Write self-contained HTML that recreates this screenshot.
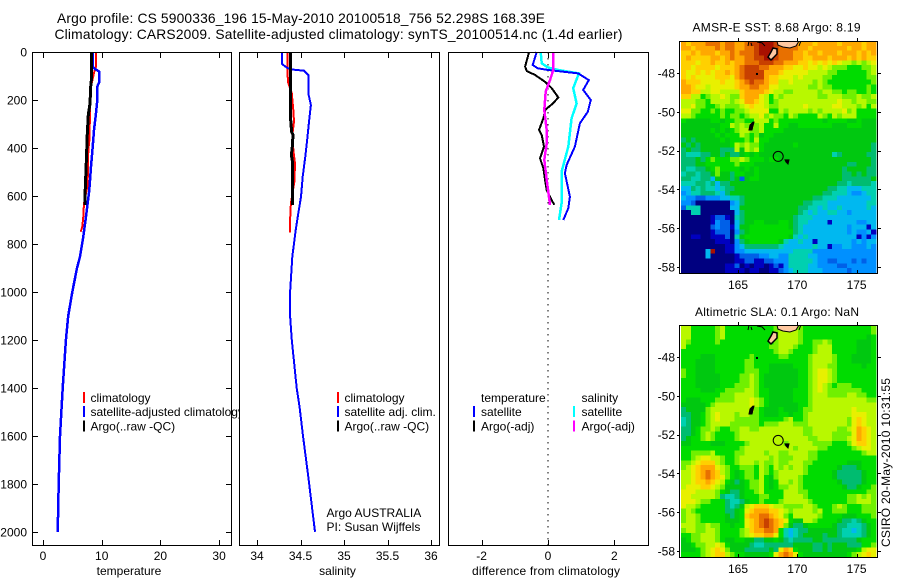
<!DOCTYPE html>
<html>
<head>
<meta charset="utf-8">
<title>Argo profile</title>
<style>
html,body{margin:0;padding:0;background:#fff;}
svg{display:block;}
text{font-family:"Liberation Sans",sans-serif;font-size:12px;fill:#000;}
</style>
</head>
<body>
<svg id="chart" xmlns="http://www.w3.org/2000/svg" width="900" height="580" viewBox="0 0 900 580">
<defs>
<clipPath id="clip-map-1"><rect x="680" y="41" width="197" height="232"/></clipPath>
<clipPath id="clip-map-2"><rect x="680" y="325" width="197" height="232"/></clipPath>
</defs>
<rect width="900" height="580" fill="#fff"/>
<g id="panels"></g>
<text x="57" y="23" style="font-size:13.8px" textLength="488" lengthAdjust="spacing">Argo profile: CS 5900336_196 15-May-2010 20100518_756 52.298S 168.39E</text>
<text x="54.5" y="39" style="font-size:13.8px" textLength="568" lengthAdjust="spacing">Climatology: CARS2009. Satellite-adjusted climatology: synTS_20100514.nc (1.4d earlier)</text>
<text x="129" y="575" text-anchor="middle">temperature</text>
<text x="337.5" y="575" text-anchor="middle">salinity</text>
<text x="472" y="575" textLength="148" lengthAdjust="spacing">difference from climatology</text>
<text x="692.5" y="31.5" textLength="168" lengthAdjust="spacing">AMSR-E SST: 8.68 Argo: 8.19</text>
<text x="695" y="316" textLength="164" lengthAdjust="spacing">Altimetric SLA: 0.1 Argo: NaN</text>
<text transform="translate(890,547) rotate(-90)" textLength="169" lengthAdjust="spacing">CSIRO 20-May-2010 10:31:55</text>
</svg>
<script>
// ---------- axis ticks ----------
const depthTicks = [0, 200, 400, 600, 800, 1000, 1200, 1400, 1600, 1800, 2000];
const temperatureTicks = [0, 10, 20, 30];
const salinityTicks = [34, 34.5, 35, 35.5, 36];
const differenceTicks = [-2, 0, 2];
const lonTicks = [165, 170, 175];
const latTicks = [-48, -50, -52, -54, -56, -58];

// ---------- temperature panel ----------
const tempClimDepth = [0, 61, 82, 130, 172, 255, 367, 408, 505, 561, 630, 686, 728, 749];
const tempClimValue = [9.03, 9.03, 8.74, 8.29, 8.0, 8.0, 7.9, 7.72, 7.67, 7.55, 6.98, 6.87, 6.7, 6.42];
const tempSatDepth = [0, 61, 71, 82, 124, 144, 200, 255, 325, 394, 478, 575, 686, 769, 853, 900, 1000, 1100, 1200, 1400, 1600, 1800, 2000];
const tempSatValue = [8.46, 8.46, 8.86, 9.6, 9.6, 9.25, 9.25, 9.03, 8.69, 8.46, 8.18, 7.89, 7.33, 6.87, 6.3, 5.8, 5.0, 4.3, 3.9, 3.35, 2.9, 2.67, 2.5];
const tempArgoDepth = [0, 103, 144, 215, 262, 339, 492, 561, 637];
const tempArgoValue = [8.29, 8.29, 8.12, 8.0, 7.72, 7.55, 7.33, 7.2, 7.15];

// ---------- salinity panel ----------
const salClimDepth = [0, 89, 130, 172, 242, 290, 332, 408, 464, 540, 630, 700, 753];
const salClimValue = [34.349, 34.349, 34.36, 34.40, 34.417, 34.425, 34.41, 34.417, 34.437, 34.43, 34.39, 34.38, 34.38];
const salSatDepth = [0, 50, 64, 72, 78, 96, 172, 221, 283, 353, 436, 519, 603, 672, 742, 853, 1000, 1100, 1200, 1400, 1480, 1603, 1770, 1999];
const salSatValue = [34.287, 34.287, 34.34, 34.38, 34.54, 34.59, 34.59, 34.62, 34.6, 34.58, 34.555, 34.525, 34.506, 34.475, 34.445, 34.406, 34.38, 34.38, 34.4, 34.456, 34.49, 34.53, 34.59, 34.667];
const salArgoDepth = [0, 283, 332, 346, 394, 429, 464, 637];
const salArgoValue = [34.387, 34.387, 34.398, 34.414, 34.406, 34.395, 34.41, 34.406];

// ---------- difference panel ----------
const diffTempArgoDepth = [0, 61, 79, 96, 124, 151, 189, 213, 242, 276, 325, 346, 394, 443, 485, 533, 575, 617, 637];
const diffTempArgoValue = [-0.57, -0.69, -0.64, -0.39, -0.09, 0.11, 0.31, 0.16, -0.09, -0.14, -0.27, -0.19, -0.12, -0.24, -0.14, -0.09, -0.04, 0.11, 0.19];
const diffTempSatDepth = [0, 54, 68, 75, 89, 117, 158, 200, 249, 297, 394, 471, 505, 603, 651, 700];
const diffTempSatValue = [-0.34, -0.46, -0.31, 0.01, 0.91, 1.23, 1.06, 1.29, 1.2, 0.96, 0.81, 0.56, 0.51, 0.66, 0.61, 0.46];
const diffSalSatDepth = [0, 47, 65, 75, 89, 151, 214, 276, 394, 499, 630, 700];
const diffSalSatValue = [-0.22, -0.19, 0.01, 0.31, 0.93, 0.76, 0.86, 0.71, 0.61, 0.41, 0.41, 0.33];
const diffSalArgoDepth = [0, 75, 117, 165, 242, 325, 381, 450, 533, 637];
const diffSalArgoValue = [0.16, 0.16, 0.06, -0.07, -0.11, -0.04, -0.04, -0.11, -0.04, 0.06];

// ---------- map geography (lon/lat) ----------
const profileLon = 168.39;
const profileLat = -52.298;
const mainLandLon = [168.29, 168.37, 168.79, 169.38, 169.89, 170.14];
const mainLandLat = [-46.35, -46.56, -46.66, -46.71, -46.61, -46.35];
const stewartLon = [167.78, 167.53, 167.78, 167.95, 168.29, 168.29, 167.95];
const stewartLat = [-47.33, -47.18, -46.92, -46.71, -46.76, -47.02, -47.23];
const aucklandLon = [165.93, 166.01, 166.26, 166.35, 166.18];
const aucklandLat = [-50.94, -50.68, -50.53, -50.53, -50.94];
const campbellLon = [168.96, 169.3, 169.22, 169.05];
const campbellLat = [-52.48, -52.48, -52.69, -52.59];
const coastLeftLon = [165.93, 165.84];
const coastLeftLat = [-46.35, -46.61];
const coastMidLon = [166.18, 166.1];
const coastMidLat = [-46.61, -46.45];
const coastArcLon = [166.6, 167.02, 167.28];
const coastArcLat = [-46.4, -46.45, -46.61];
const coastRightLon = [170.14, 170.3];
const coastRightLat = [-46.61, -46.35];
const snaresLon = [166.6];
const snaresLat = [-48.05];

// ---------- SST map levels (base-36 code, one row per latitude band) ----------
const sstRows = [
"dcddd eeedeedde ff ggg feeee dddcddddcddddcdd",
"ddcdd ddedeedde ef ggg feeee ddcdddddddcddcdd",
"ccdcd ddcddedee ef ggg feeed dcddcdddcdddcdcd",
"cdccc cddcdedde ef fgg feeed dccdddcdddcdcdcc",
"cccbc cdccd cddee efffe edddc cbcbc bcbaa 9a9ab",
"ccbcc ccbcc cdeff feedd dccbb cbbab a9998 8899a",
"cbbcb cbccd cdeff ffddd cbbbb baaaa 99888 8889a",
"cbcbb bbccc bdeff ffdcc bbbab aaaa9 98888 88899",
"dcccb bbbcb bcdef eedcc aabaa aa9a9 88888 88889",
"ddcbb abbbb bcdde eddbb aaaaa a99a9 98888 88898",
"ddcca abbaa aacdd ddcba a99aa aaa9a a9989 98898",
"ccaa8 9aaba 99cdd dba8a 9aaaa aaa99 aaa99 9a99a",
"aaa99 8aaaa 9abdd cba89 aaaaa aaaaa aabaa 9aa99",
"aab99 889a9 99abc bba99 aaaaa baaaa abbaa a9a8a",
"bb998 89898 899ab bbb88 a9aaa a9a9a aaab9 a8888",
"aa988 88898 9989a ab9a9 98a98 888a9 8a9aa a8888",
"87777 78878 89988 aaa89 88888 88887 88887 78777",
"77777 77788 a9a9a 9a88a 88778 88888 87778 88777",
"77777 78787 89aa9 9a888 87777 77777 77777 77777",
"77777 77878 88a98 97887 77777 77777 77777 77777",
"67677 77787 88898 a8877 77777 77777 77777 77777",
"76767 77777 8a9a9 98777 77787 77777 77777 77776",
"67667 77766 6a7a9 a8777 77777 77777 77777 77776",
"65556 67767 66787 87777 77777 77777 75677 77766",
"66676 89888 99a98 88788 77777 77777 77777 77776",
"66677 88888 89888 77777 77777 77777 77776 67776",
"65566 78988 88787 87777 77777 77777 77767 77766",
"56656 67977 68877 87777 77777 77777 77766 76766",
"66556 64777 67278 87777 77777 77777 77766 66667",
"55566 56466 77777 77777 77777 77777 77665 66665",
"44656 55456 67777 77777 77777 77777 66554 44555",
"34556 66546 77777 77777 77777 77776 65554 33455",
"43322 33344 55677 77777 77777 77665 55444 44445",
"33200 00000 34677 77777 77777 66555 44444 44455",
"25550 00000 44777 77777 77776 65545 44544 44454",
"00550 00000 04677 77777 77776 54544 55443 44444",
"00000 01221 05677 77777 77765 55444 44444 44444",
"00000 01322 04677 88777 88765 54444 14444 43344",
"00000 02322 14778 88888 88765 44444 44443 44414",
"00000 01222 03678 88888 88865 44444 44443 43341",
"00110 01112 05788 88888 88754 54444 44444 41313",
"00000 00111 03678 88888 75445 44144 44444 34344",
"00000 00001 13466 66666 54444 44544 13344 33343",
"00000 4g001 13344 44444 44455 55333 33333 33333",
"00000 40000 01222 23344 33555 54433 33333 33333",
"00000 00000 01122 11223 33555 55433 22333 23233",
"00000 00001 12010 11012 13555 54433 33223 33333",
"00000 00001 11101 10011 23455 54443 33332 33333"
];

// ---------- SLA map levels ----------
const slaRows = [
"aa888 889a8 88888 88889 99a99 88888 88888 88889",
"aa888 889a8 88888 88889 aaaa9 88888 88888 88889",
"aa888 889a8 88888 88889 aaaa9 88888 88888 88878",
"a9888 88988 88888 88889 aaaa9 8899a 98888 87778",
"a8888 88888 88888 88899 aaa98 889aa a8888 87778",
"88888 88888 88888 88889 aa988 889aa a8888 87778",
"88887 77888 88889 88888 99888 89aaa a9888 77778",
"88877 77888 88899 88888 88888 89aaa a9888 77778",
"88877 77888 88899 88877 77788 89aaa 99888 88788",
"98877 77888 88899 98877 77778 89abb a9888 88888",
"98877 77788 8899a 98777 77778 89abb a9888 88888",
"88877 77788 8899a 98777 77778 89abb a9888 88888",
"88877 77788 8999a 98777 77778 89aba 98999 88888",
"88887 77889 999aa 98877 77788 89aba 99999 99888",
"88888 88899 9aaaa 98877 77788 89aaa 9999a a9988",
"87778 88999 9aaab a9877 77788 89aaa aaaaa aaa99",
"77777 89aaa aaaab a9877 77778 89aaa aaaaa aaaaa",
"67777 9aaaa aaaaa 98777 87778 99aaa aaaaa baaaa",
"66778 9abaa a9aa9 98777 88788 9aaaa aaaaa bbbaa",
"56778 9abaa a9999 98888 89a88 9aaaa aaaa9 bcbaa",
"56778 9aaaa 99999 98999 aaa99 9aaaa aaaa9 bcbaa",
"66789 9a988 99aa9 9aaaa aaaaa 99aaa aa99a bdcba",
"66789 a9888 89aaa aaaaa aaaaa 99aaa a9999 bdcba",
"67889 a9888 89aaa aaaaa aaaaa a99aa a999a bdcba",
"77888 87778 8889a aaaaa a9aaa aa999 98889 bccba",
"88888 88888 889aa aaaaa aaa9a aaa99 88888 9abba",
"88999 9a888 899aa aa9aa 99aaa a9988 88888 889aa",
"889ab baa98 89aaa aaa9a 999aa a9988 88888 88888",
"99abc cca98 89aaa 9a99a 99aaa 99888 88887 77888",
"9abcd ddba9 88999 8a98a 9a9aa 98888 88766 67888",
"aabcd edca9 87899 8a989 aaaaa 98888 87666 66788",
"aabcd edcb9 87899 8a879 aaaa9 88888 87666 66788",
"aabcc dcba8 76789 9a878 aa9a9 88888 88766 66788",
"abbbc cba97 77789 9a878 99aa9 88888 88876 67889",
"bbbaa aa987 66788 9a888 8aaa9 98888 88888 88899",
"bbaaa aa965 56788 89988 8aaaa 98888 88889 9a9a9",
"bbba9 98886 55678 89888 9aaaa a9888 88889 9aaa9",
"baa98 88886 567ab cccba a9999 aa988 89a98 88999",
"9a988 88886 678bc dddcc ba9aa aa9a8 89998 88999",
"9aa98 88887 678cd deedc b98aa aaa98 88877 78889",
"9aa98 88887 778bc defed cb877 aa988 88766 56788",
"aaa99 a9988 788bc defed c9766 78888 87665 55678",
"9aa99 aa988 889ac ddeed 85456 67777 77655 45678",
"8899a aa988 889ab ccddb 85456 77776 77655 55678",
"7899a aa987 78877 66778 76566 66776 66666 67888",
"77899 aaba8 77776 55666 66677 77667 67776 66889",
"77789 abcb9 77766 66676 bdc87 77667 67777 78abb",
"88889 abcca 98877 7778b dedb8 77777 77778 9abcb"
];

const levelColors = ["#000080","#0000c0","#0060e8","#0090ff","#00b8f0","#00d0b0","#00bc70","#00c810","#00dc00","#70f000","#b8f800","#e8f000","#ffd000","#ffa800","#e87000","#c84000","#a81000"];

// ---------- axis functions ----------
const yDepth = d => 52 + 0.24 * d;
const xTemp = v => 43 + 5.87 * v;
const xSal = v => 257 + 87 * (v - 34);
const xDiff = v => 548 + 33.2 * v;
const lonX = lon => 738 + 11.86 * (lon - 165);
const latY = (lat, top) => top + 32 + 19.4 * (-48 - lat);

const NS = "http://www.w3.org/2000/svg";
const root = document.getElementById("panels");
function mk(tag, attrs, parent) {
  const el = document.createElementNS(NS, tag);
  for (const k in attrs) el.setAttribute(k, attrs[k]);
  (parent || root).appendChild(el);
  return el;
}
function pathFrom(xs, ys) {
  return xs.map((x, i) => (i ? "L" : "M") + x.toFixed(1) + " " + ys[i].toFixed(1)).join("");
}

function drawSeries(parent, depth, value, xFn, color, width, name) {
  const line = mk("path", {
    d: pathFrom(value.map(xFn), depth.map(yDepth)),
    fill: "none", stroke: color, "stroke-width": width, "shape-rendering": "crispEdges"
  }, parent);
  
  
}

function drawPanel(name, left, right) {
  const g = mk("g", {});
  
  
  const bg = mk("rect", {x: left, y: 52, width: right - left, height: 493, fill: "#fff"}, g);
  
  
  return g;
}

function drawFrame(name, left, right, xFn, ticks, withDepth) {
  const g = mk("g", {"shape-rendering": "crispEdges"});
  
  
  const box = mk("rect", {x: left + 0.5, y: 52.5, width: right - left, height: 493, fill: "none", stroke: "#000"}, g);
  
  
  ticks.forEach(t => {
    const x = Math.round(xFn(t)) + 0.5;
    const tk = mk("path", {d: `M${x} 53V58M${x} 545V540`, stroke: "#000", fill: "none"}, g);
    
    
    const lb = mk("text", {x: xFn(t), y: 560, "text-anchor": "middle"}, g);
    
    
    lb.textContent = String(t);
  });
  if (withDepth) {
    depthTicks.forEach(d => {
      const y = Math.round(yDepth(d)) + 0.5;
      const tk = mk("path", {d: `M${left + 1} ${y}H${left + 6}M${right} ${y}H${right - 5}`, stroke: "#000", fill: "none"}, g);
      
      
      const lb = mk("text", {x: 27, y: yDepth(d) + 4.5, "text-anchor": "end"}, g);
      
      
      lb.textContent = String(d);
    });
  }
}

function legendEntry(parent, name, color, markX, textX, baseline, label) {
  if (color) {
    const m = mk("rect", {x: markX, y: baseline - 10, width: 2, height: 11, fill: color, "shape-rendering": "crispEdges"}, parent);
    
    
  }
  const t = mk("text", {x: textX, y: baseline}, parent);
  
  
  t.textContent = label;
}

// ---------- panel 1: temperature ----------
const p1 = drawPanel("temperature-panel", 32, 231);
drawSeries(p1, tempClimDepth, tempClimValue, xTemp, "#ff0000", 2, "temperature-climatology-line");
drawSeries(p1, tempSatDepth, tempSatValue, xTemp, "#0000ff", 2.5, "temperature-satellite-line");
drawSeries(p1, tempArgoDepth, tempArgoValue, xTemp, "#000000", 3, "temperature-argo-line");
drawFrame("temperature-panel", 32, 231, xTemp, temperatureTicks, true);
legendEntry(p1, "temperature-legend-climatology", "#ff0000", 83, 90.5, 402, "climatology");
legendEntry(p1, "temperature-legend-satellite", "#0000ff", 83, 90.5, 416, "satellite-adjusted climatology");
legendEntry(p1, "temperature-legend-argo", "#000000", 83, 90.5, 430.5, "Argo(..raw -QC)");

// ---------- panel 2: salinity ----------
const p2 = drawPanel("salinity-panel", 239, 439);
drawSeries(p2, salClimDepth, salClimValue, xSal, "#ff0000", 2, "salinity-climatology-line");
drawSeries(p2, salSatDepth, salSatValue, xSal, "#0000ff", 2, "salinity-satellite-line");
drawSeries(p2, salArgoDepth, salArgoValue, xSal, "#000000", 3, "salinity-argo-line");
drawFrame("salinity-panel", 239, 439, xSal, salinityTicks, false);
legendEntry(p2, "salinity-legend-climatology", "#ff0000", 337, 344.5, 402, "climatology");
legendEntry(p2, "salinity-legend-satellite", "#0000ff", 337, 344.5, 416, "satellite adj. clim.");
legendEntry(p2, "salinity-legend-argo", "#000000", 337, 344.5, 430.5, "Argo(..raw -QC)");
legendEntry(p2, "data-centre-note", null, 0, 326.5, 517, "Argo AUSTRALIA");
legendEntry(p2, "principal-investigator-note", null, 0, 326.5, 531, "PI: Susan Wijffels");

// ---------- panel 3: difference ----------
const p3 = drawPanel("difference-panel", 448, 648);
const zeroLine = mk("path", {d: `M${xDiff(0)} 52V545`, stroke: "#000", "stroke-dasharray": "1.5 4.5", fill: "none", "shape-rendering": "crispEdges"}, p3);


drawSeries(p3, diffSalSatDepth, diffSalSatValue, xDiff, "#00ffff", 2.5, "difference-salinity-satellite-line");
drawSeries(p3, diffTempSatDepth, diffTempSatValue, xDiff, "#0000ff", 2, "difference-temperature-satellite-line");
drawSeries(p3, diffTempArgoDepth, diffTempArgoValue, xDiff, "#000000", 2, "difference-temperature-argo-line");
drawSeries(p3, diffSalArgoDepth, diffSalArgoValue, xDiff, "#ff00ff", 2.5, "difference-salinity-argo-line");
drawFrame("difference-panel", 448, 648, xDiff, differenceTicks, false);
legendEntry(p3, "difference-legend-temperature-heading", null, 0, 481, 402, "temperature");
legendEntry(p3, "difference-legend-temperature-satellite", "#0000ff", 473, 481, 416, "satellite");
legendEntry(p3, "difference-legend-temperature-argo", "#000000", 473, 481, 430.5, "Argo(-adj)");
legendEntry(p3, "difference-legend-salinity-heading", null, 0, 581.5, 402, "salinity");
legendEntry(p3, "difference-legend-salinity-satellite", "#00ffff", 573, 581.5, 416, "satellite");
legendEntry(p3, "difference-legend-salinity-argo", "#ff00ff", 573, 581.5, 430.5, "Argo(-adj)");

// ---------- maps ----------
function drawMap(name, rows, top, clipId) {
  const g = mk("g", {});
  
  
  const bg = mk("rect", {x: 680, y: top, width: 197, height: 232, fill: "#fff"}, g);
  
  
  const cells = mk("g", {"shape-rendering": "crispEdges"}, g);
  
  
  const nRows = rows.length;
  const cellH = 232 / nRows;
  const cellW = 195 / 40;
  rows.forEach((row, r) => {
    const codes = row.replace(/ /g, "");
    for (let c = 0; c < 40; c++) {
      const ch = codes[Math.min(c, codes.length - 1)];
      const cell = mk("rect", {
        x: (681 + c * cellW).toFixed(2), y: (top + r * cellH).toFixed(2),
        width: (cellW + 0.3).toFixed(2), height: (cellH + 0.3).toFixed(2),
        fill: levelColors[parseInt(ch, 36)]
      }, cells);
      
      
    }
  });
  const geo = mk("g", {"clip-path": `url(#${clipId})`}, g);
  
  
  const poly = (lons, lats, fill, stroke, w, nm) => {
    const p = mk("path", {
      d: pathFrom(lons.map(lonX), lats.map(l => latY(l, top))) + (fill === "none" ? "" : "Z"),
      fill: fill, stroke: stroke, "stroke-width": w
    }, geo);
    
    
  };
  poly(mainLandLon, mainLandLat, "#ffc8a0", "#000", 1, "south-island-land");
  poly(stewartLon, stewartLat, "#ffc8a0", "#000", 1.5, "stewart-island-land");
  poly(aucklandLon, aucklandLat, "#000", "#000", 1, "auckland-islands");
  poly(campbellLon, campbellLat, "#000", "#000", 1, "campbell-island");
  poly(coastLeftLon, coastLeftLat, "none", "#000", 1, "coast-segment");
  poly(coastMidLon, coastMidLat, "none", "#000", 1, "coast-segment");
  poly(coastArcLon, coastArcLat, "none", "#000", 1, "coast-segment");
  poly(coastRightLon, coastRightLat, "none", "#000", 1, "coast-segment");
  const dot = mk("rect", {x: lonX(snaresLon[0]) - 1, y: latY(snaresLat[0], top) - 1, width: 2, height: 2, fill: "#000"}, geo);
  
  
  const marker = mk("circle", {cx: lonX(profileLon), cy: latY(profileLat, top), r: 5, fill: "none", stroke: "#000", "stroke-width": 1}, g);
  
  
  const axes = mk("g", {"shape-rendering": "crispEdges"}, g);
  
  
  const box = mk("rect", {x: 679.5, y: top + 0.5, width: 198, height: 232, fill: "none", stroke: "#000"}, axes);
  
  
  lonTicks.forEach(lon => {
    const x = Math.round(lonX(lon)) + 0.5;
    const tk = mk("path", {d: `M${x} ${top - 3}V${top + 1}M${x} ${top + 232}V${top + 229}`, stroke: "#000", fill: "none"}, axes);
    
    
    const lb = mk("text", {x: lonX(lon), y: top + 248, "text-anchor": "middle"}, axes);
    
    
    lb.textContent = String(lon);
  });
  latTicks.forEach(lat => {
    const y = Math.round(latY(lat, top)) + 0.5;
    const tk = mk("path", {d: `M677 ${y}H680M877 ${y}H881`, stroke: "#000", fill: "none"}, axes);
    
    
    const lb = mk("text", {x: 675, y: latY(lat, top) + 4.5, "text-anchor": "end"}, axes);
    
    
    lb.textContent = String(lat);
  });
}
drawMap("sst-map", sstRows, 41, "clip-map-1");
drawMap("sla-map", slaRows, 325, "clip-map-2");
</script>
</body>
</html>
